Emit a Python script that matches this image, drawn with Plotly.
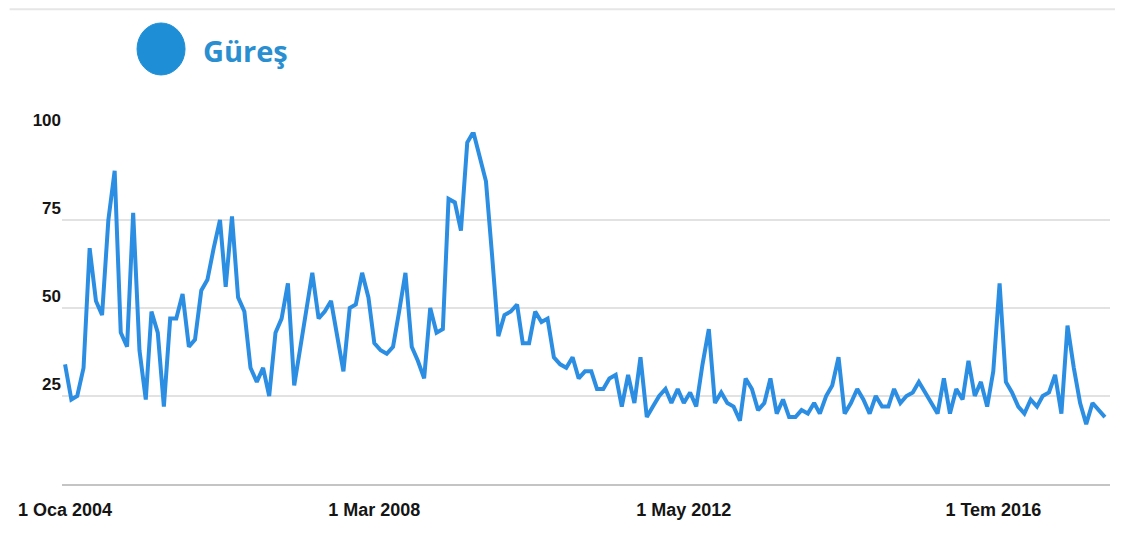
import pandas as pd
import plotly.graph_objects as go

series_name = "Güreş"
start_month = "2004-01-01"

v2004 = [34, 24, 25, 33, 67, 52, 48, 75, 89, 43, 39, 77]
v2005 = [38, 24, 49, 43, 22, 47, 47, 54, 39, 41, 55, 58]
v2006 = [67, 75, 56, 76, 53, 49, 33, 29, 33, 25, 43, 47]
v2007 = [57, 28, 38, 49, 60, 47, 49, 52, 42, 32, 50, 51]
v2008 = [60, 53, 40, 38, 37, 39, 49, 60, 39, 35, 30, 50]
v2009 = [43, 44, 81, 80, 72, 97, 100, 93, 86, 65, 42, 48]
v2010 = [49, 51, 40, 40, 49, 46, 47, 36, 34, 33, 36, 30]
v2011 = [32, 32, 27, 27, 30, 31, 22, 31, 23, 36, 19, 22]
v2012 = [25, 27, 23, 27, 23, 26, 22, 34, 44, 23, 26, 23]
v2013 = [22, 18, 30, 27, 21, 23, 30, 20, 24, 19, 19, 21]
v2014 = [20, 23, 20, 25, 28, 36, 20, 23, 27, 24, 20, 25]
v2015 = [22, 22, 27, 23, 25, 26, 29, 26, 23, 20, 30, 20]
v2016 = [27, 24, 35, 25, 29, 22, 32, 57, 29, 26, 22, 20]
v2017 = [24, 22, 25, 26, 31, 20, 45, 33, 23, 17, 23, 21]
v2018 = [19]

x_tick_vals = ["2004-01-01", "2008-03-01", "2012-05-01", "2016-07-01"]
x_tick_text = ["1 Oca 2004", "1 Mar 2008", "1 May 2012", "1 Tem 2016"]
y_tick_vals = [25, 50, 75, 100]

values = (v2004 + v2005 + v2006 + v2007 + v2008 + v2009 + v2010 + v2011
          + v2012 + v2013 + v2014 + v2015 + v2016 + v2017 + v2018)
dates = pd.date_range(start_month, periods=len(values), freq="MS")

BLUE = "#2b8ee2"
TXT = "#151515"
LABEL_FONT = "Liberation Sans, Arial, sans-serif"

fig = go.Figure()
fig.add_trace(go.Scatter(
    x=dates, y=values, mode="lines", name=series_name,
    line=dict(color=BLUE, width=4), showlegend=False,
))

fig.update_layout(
    width=1107, height=518,
    margin=dict(l=54, r=5, t=124, b=42),
    paper_bgcolor="white", plot_bgcolor="white",
    xaxis=dict(
        type="date",
        range=["2003-12-17", "2018-01-26"],
        tickvals=x_tick_vals, ticktext=x_tick_text,
        showgrid=False, zeroline=False,
        showline=True, linecolor="#c4c4c4", linewidth=2,
        ticks="", ticklabelstandoff=8,
        tickfont=dict(family=LABEL_FONT, size=18, color=TXT, weight="bold"),
    ),
    yaxis=dict(
        range=[0, 100], tickvals=y_tick_vals,
        showgrid=True, gridcolor="#e2e2e2", gridwidth=1.5,
        zeroline=False, showline=False, ticks="",
        ticklabelposition="outside top",
        tickfont=dict(family=LABEL_FONT, size=17, color=TXT, weight="bold"),
    ),
    shapes=[
        dict(type="line", xref="paper", yref="paper",
             x0=-0.05, x1=1.005, y0=1.349, y1=1.349,
             line=dict(color="#e6e6e6", width=2)),
        dict(type="circle", xref="paper", yref="paper",
             x0=0.0716, x1=0.1174, y0=1.162, y1=1.3097,
             fillcolor="#1e8fd6", line=dict(color="#1e8fd6", width=1)),
    ],
    annotations=[
        dict(text=series_name, xref="paper", yref="paper",
             x=0.1325, y=1.232, xanchor="left", yanchor="middle",
             showarrow=False,
             font=dict(family="Open Sans, sans-serif", size=29,
                       color="#2a8fd0", weight="bold")),
    ],
)

fig.write_html("out.html")
